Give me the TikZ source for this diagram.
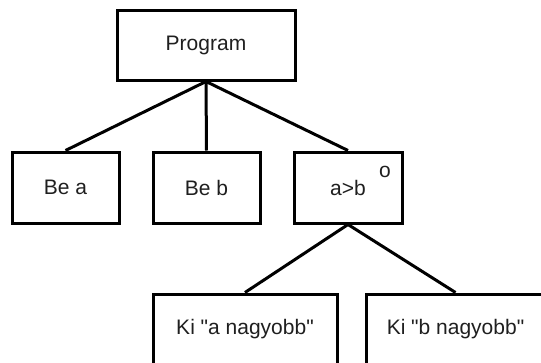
\documentclass[tikz,border=0pt]{standalone}
\usepackage{fontspec}
\setmainfont{Liberation Sans}[Ligatures=TeXOff]
\begin{document}
\begin{tikzpicture}[x=1pt,y=-1pt,
  label text/.style={font=\fontsize{21}{25}\selectfont, text=black!88},
  box/.style={draw=black, line width=3pt, fill=white, inner sep=0pt, label text},
  edge/.style={draw=black, line width=3pt}]
\useasboundingbox (0,0) rectangle (541,362);
\clip (0,0) rectangle (541,362);
% tree nodes
\node[box, minimum width=178pt, minimum height=70pt] (prog) at (206,45) {Program};
\node[box, minimum width=107pt, minimum height=71pt] (bea) at (65.5,187.5) {Be a};
\node[box, minimum width=107pt, minimum height=71pt] (beb) at (206.5,187.5) {Be b};
\node[box, minimum width=108pt, minimum height=71pt] (agb) at (348,187.5) {a>b};
\node[label text, inner sep=0pt] (mark) at (385,171.5) {o};
\node[box, minimum width=184pt, minimum height=70pt] (kia) at (245,329) {Ki "a nagyobb"};
\node[box, minimum width=179pt, minimum height=70pt] (kib) at (455.5,329) {Ki "b nagyobb"};
% connectors
\draw[edge] (prog.south) -- (bea.north);
\draw[edge] (prog.south) -- (beb.north);
\draw[edge] (prog.south) -- (agb.north);
\draw[edge] (agb.south) -- (kia.north);
\draw[edge] (agb.south) -- (kib.north);
\end{tikzpicture}
\end{document}
